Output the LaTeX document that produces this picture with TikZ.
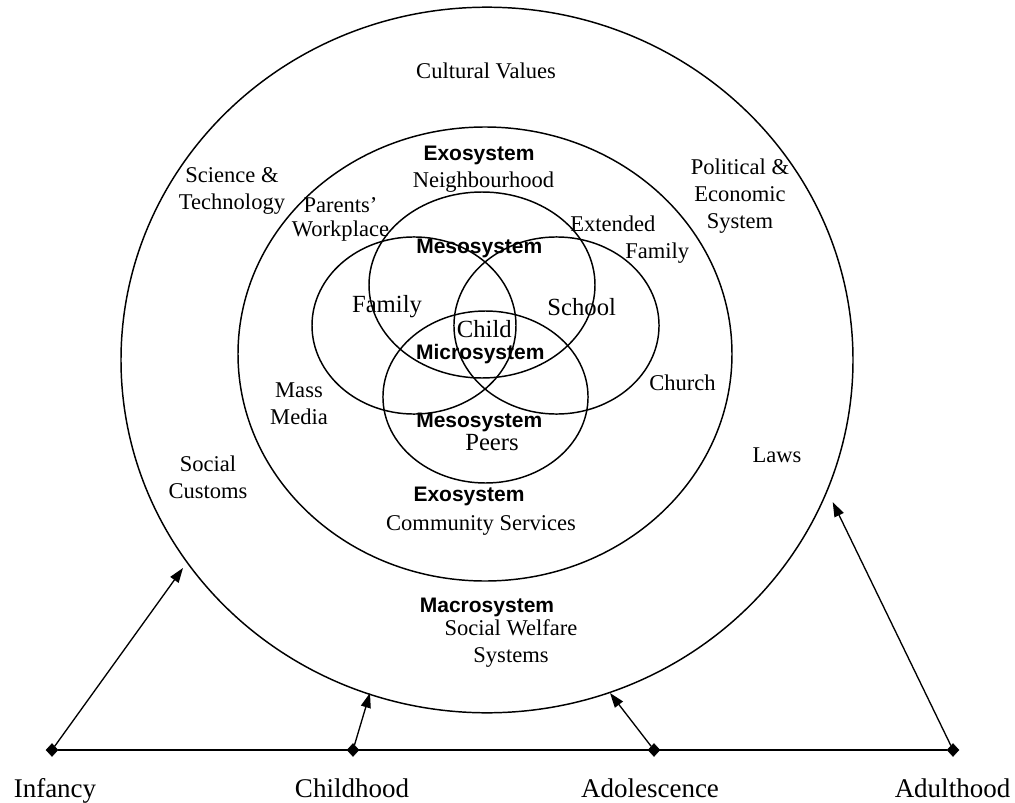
\documentclass[tikz,border=0pt]{standalone}
\usepackage{fontspec}
\setmainfont{Liberation Serif}
\setsansfont{Liberation Sans}
\usetikzlibrary{arrows.meta,shapes.geometric}
\begin{document}
\begin{tikzpicture}[x=0.75pt,y=-0.75pt,
  ring/.style={draw,line width=1.1pt},
  lbl/.style={inner sep=0pt,align=center,font=\fontsize{16.9}{20.25}\selectfont},
  inlbl/.style={inner sep=0pt,font=\fontsize{18.5}{22}\selectfont},
  sys/.style={inner sep=0pt,font=\fontsize{15.75}{18}\selectfont\sffamily\bfseries},
  stage/.style={inner sep=0pt,anchor=base,font=\fontsize{20.25}{24}\selectfont},
  stagept/.style={diamond,fill,draw,inner sep=0pt,minimum width=9pt,minimum height=9.75pt},
  arr/.style={-{Triangle[length=11pt,width=7.5pt]},line width=1pt}
]
\useasboundingbox (0,0) rectangle (1015,803);

% systems
\draw[ring] (487,360) ellipse [x radius=274.5pt, y radius=264.6pt];
\draw[ring] (485,354) ellipse [x radius=185.25pt, y radius=170.25pt];
\draw[ring] (482,285) ellipse [x radius=84.75pt, y radius=69.75pt];
\draw[ring] (414,325.5) ellipse [x radius=76.5pt, y radius=66.4pt];
\draw[ring] (556.5,325.5) ellipse [x radius=76.9pt, y radius=66.4pt];
\draw[ring] (485.5,397) ellipse [x radius=76.9pt, y radius=64.5pt];

% labels
\node[lbl] (cult) at (486,71) {Cultural Values};
\node[lbl] (sci) at (232,190.5) {Science \&\\Technology};
\node[lbl,font=\fontsize{16.9}{18}\selectfont] (par) at (340.5,219) {Parents’\\Workplace};
\node[sys] (exo1) at (479,155) {Exosystem};
\node[lbl] (neigh) at (483.5,182) {Neighbourhood};
\node[sys] (meso1) at (479.3,248) {Mesosystem};
\node[lbl,align=left,anchor=west] (ext) at (570,240) {Extended\\\hspace*{41.25pt}Family};
\node[lbl] (pol) at (740,196) {Political \&\\Economic\\System};
\node[inlbl] (fam) at (387,307) {Family};
\node[inlbl] (school) at (581.7,307) {School};
\node[inlbl] (child) at (484.3,329) {Child};
\node[sys] (micro) at (480.3,354) {Microsystem};
\node[lbl] (mass) at (299,404) {Mass\\Media};
\node[lbl] (church) at (682.5,383) {Church};
\node[sys] (meso2) at (479.3,422) {Mesosystem};
\node[inlbl] (peers) at (492,443) {Peers};
\node[lbl] (socc) at (208,477) {Social\\Customs};
\node[lbl] (laws) at (777,455) {Laws};
\node[sys] (exo2) at (469,496) {Exosystem};
\node[lbl] (comm) at (481,525) {Community Services};
\node[sys] (macro) at (487,607) {Macrosystem};
\node[lbl] (welf) at (511,643.5) {Social Welfare\\Systems};

% life stages
\node[stagept] (d1) at (52,750) {};
\node[stagept] (d2) at (353,750) {};
\node[stagept] (d3) at (654,750) {};
\node[stagept] (d4) at (953,750) {};
\node[stage] (inf) at (55,797) {Infancy};
\node[stage] (chi) at (352,797) {Childhood};
\node[stage] (ado) at (650,797) {Adolescence};
\node[stage] (adu) at (952.5,797) {Adulthood};

\coordinate (t1) at (183,568);
\coordinate (t2) at (370,693);
\coordinate (t3) at (610,693);
\coordinate (t4) at (832.7,502);

\draw[line width=1.4pt] (d1) -- (d4);
\draw[arr] (d1) -- (t1);
\draw[arr] (d2) -- (t2);
\draw[arr] (d3) -- (t3);
\draw[arr] (d4) -- (t4);
\end{tikzpicture}
\end{document}
